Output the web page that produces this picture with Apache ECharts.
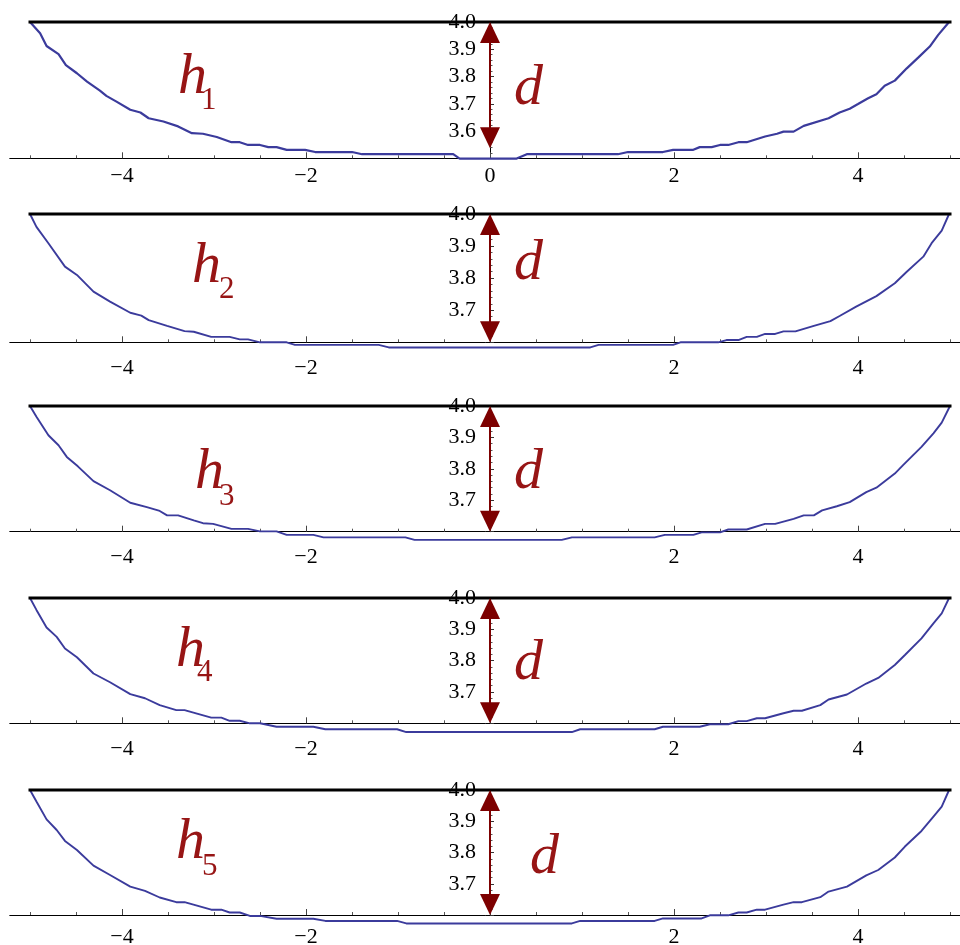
<!DOCTYPE html>
<html>
<head>
<meta charset="utf-8">
<script src="https://cdn.jsdelivr.net/npm/echarts@6/dist/echarts.min.js"></script>
<style>
  html, body { margin: 0; padding: 0; background: #fff; }
  #chart { width: 960px; height: 945px; }
</style>
</head>
<body>
<div id="chart"></div>
<script>
// Shared horizontal extent and tick positions
const X_MIN = -5.22, X_MAX = 5.22;
const xMajorTicks = [-4, -2, 0, 2, 4];
const xMinorTicks = [-5, -4.5, -3.5, -3, -2.5, -1.5, -1, -0.5, 0.5, 1, 1.5, 2.5, 3, 3.5, 4.5, 5];
const xLabelsFirst = [-4, -2, 0, 2, 4];
const xLabelsOther = [-4, -2, 2, 4];

// Free surface level, axis crossing level and lower end of the depth arrow
const surfaceLevel = 4.0;
const surfaceSpan = [-5, 5];
const axisBase = [3.5, 3.6, 3.6, 3.6, 3.6];
const arrowLow = [3.537, 3.6, 3.6, 3.6, 3.6];

// Bottom profiles h1..h5 as [x, height]
const h1Curve = [
  [-5.0, 4.0], [-4.89, 3.959], [-4.82, 3.912], [-4.69, 3.882], [-4.61, 3.842], [-4.49, 3.812],
  [-4.38, 3.781], [-4.24, 3.748], [-4.17, 3.729], [-4.06, 3.708], [-3.91, 3.678], [-3.80, 3.668],
  [-3.71, 3.647], [-3.55, 3.635], [-3.39, 3.617], [-3.24, 3.592], [-3.12, 3.590], [-2.97, 3.578],
  [-2.81, 3.559], [-2.72, 3.559], [-2.63, 3.549], [-2.50, 3.549], [-2.41, 3.541], [-2.32, 3.541],
  [-2.21, 3.531], [-2.01, 3.531], [-1.90, 3.523], [-1.50, 3.523], [-1.39, 3.515], [-0.40, 3.515],
  [-0.33, 3.499], [0.29, 3.499], [0.40, 3.515], [1.39, 3.515], [1.50, 3.523], [1.88, 3.523],
  [1.99, 3.531], [2.21, 3.531], [2.28, 3.541], [2.41, 3.541], [2.50, 3.549], [2.59, 3.549],
  [2.70, 3.559], [2.79, 3.559], [2.99, 3.580], [3.12, 3.590], [3.19, 3.598], [3.30, 3.598],
  [3.41, 3.619], [3.68, 3.647], [3.80, 3.668], [3.91, 3.682], [4.00, 3.699], [4.11, 3.720],
  [4.20, 3.735], [4.29, 3.766], [4.40, 3.785], [4.53, 3.830], [4.66, 3.871], [4.78, 3.910],
  [4.87, 3.952], [4.99, 4.0]
];
const h2Curve = [
  [-5.0, 4.0], [-4.93, 3.960], [-4.80, 3.909], [-4.62, 3.836], [-4.49, 3.810], [-4.31, 3.758],
  [-4.13, 3.727], [-3.91, 3.692], [-3.79, 3.683], [-3.71, 3.669], [-3.51, 3.651], [-3.32, 3.635],
  [-3.22, 3.633], [-3.03, 3.617], [-2.83, 3.617], [-2.72, 3.609], [-2.63, 3.609], [-2.50, 3.600],
  [-2.21, 3.600], [-2.12, 3.592], [-1.21, 3.592], [-1.10, 3.584], [1.09, 3.584], [1.18, 3.592],
  [1.99, 3.592], [2.07, 3.600], [2.48, 3.600], [2.57, 3.607], [2.70, 3.607], [2.79, 3.617],
  [2.90, 3.617], [2.99, 3.626], [3.10, 3.626], [3.19, 3.634], [3.32, 3.634], [3.52, 3.651],
  [3.70, 3.666], [3.80, 3.682], [3.98, 3.711], [4.20, 3.744], [4.40, 3.784], [4.53, 3.820],
  [4.71, 3.867], [4.80, 3.909], [4.91, 3.948], [4.99, 4.0]
];
const h3Curve = [
  [-5.0, 4.0], [-4.93, 3.966], [-4.80, 3.907], [-4.69, 3.875], [-4.60, 3.838], [-4.48, 3.808],
  [-4.31, 3.761], [-4.13, 3.732], [-3.91, 3.692], [-3.73, 3.678], [-3.59, 3.666], [-3.51, 3.652],
  [-3.39, 3.652], [-3.22, 3.636], [-3.12, 3.627], [-3.01, 3.625], [-2.81, 3.609], [-2.63, 3.609],
  [-2.50, 3.601], [-2.32, 3.601], [-2.21, 3.590], [-1.92, 3.590], [-1.81, 3.582], [-0.92, 3.582],
  [-0.82, 3.574], [0.78, 3.574], [0.89, 3.582], [1.79, 3.582], [1.90, 3.590], [2.21, 3.590],
  [2.30, 3.598], [2.50, 3.598], [2.59, 3.607], [2.79, 3.607], [2.99, 3.625], [3.10, 3.625],
  [3.30, 3.641], [3.41, 3.652], [3.52, 3.652], [3.61, 3.668], [3.77, 3.681], [3.91, 3.694],
  [4.09, 3.726], [4.20, 3.740], [4.40, 3.785], [4.49, 3.812], [4.69, 3.870], [4.82, 3.913],
  [4.91, 3.947], [5.0, 4.0]
];
const h4Curve = [
  [-5.0, 4.0], [-4.93, 3.962], [-4.82, 3.906], [-4.71, 3.876], [-4.62, 3.839], [-4.49, 3.811],
  [-4.31, 3.759], [-4.13, 3.731], [-3.91, 3.693], [-3.75, 3.680], [-3.59, 3.658], [-3.41, 3.642],
  [-3.32, 3.642], [-3.03, 3.618], [-2.92, 3.618], [-2.83, 3.608], [-2.72, 3.608], [-2.61, 3.600],
  [-2.50, 3.600], [-2.32, 3.589], [-1.92, 3.589], [-1.79, 3.581], [-1.01, 3.581], [-0.91, 3.572],
  [0.89, 3.572], [0.98, 3.581], [1.79, 3.581], [1.88, 3.589], [2.28, 3.589], [2.39, 3.597],
  [2.59, 3.597], [2.70, 3.607], [2.79, 3.607], [2.90, 3.616], [2.99, 3.616], [3.19, 3.632],
  [3.30, 3.640], [3.39, 3.640], [3.59, 3.658], [3.68, 3.676], [3.88, 3.692], [4.09, 3.727],
  [4.22, 3.745], [4.40, 3.786], [4.51, 3.818], [4.69, 3.871], [4.82, 3.919], [4.91, 3.951],
  [4.99, 4.0]
];
const h5Curve = [
  [-5.0, 4.0], [-4.93, 3.963], [-4.82, 3.906], [-4.71, 3.872], [-4.62, 3.837], [-4.49, 3.808],
  [-4.31, 3.758], [-4.13, 3.728], [-3.91, 3.691], [-3.75, 3.677], [-3.59, 3.656], [-3.41, 3.641],
  [-3.32, 3.641], [-3.03, 3.617], [-2.92, 3.617], [-2.83, 3.608], [-2.72, 3.608], [-2.61, 3.597],
  [-2.50, 3.597], [-2.32, 3.588], [-1.92, 3.588], [-1.79, 3.581], [-1.01, 3.581], [-0.91, 3.573],
  [0.89, 3.573], [0.98, 3.581], [1.79, 3.581], [1.88, 3.589], [2.30, 3.589], [2.39, 3.599],
  [2.59, 3.599], [2.70, 3.608], [2.79, 3.608], [2.90, 3.617], [2.99, 3.617], [3.19, 3.633],
  [3.30, 3.641], [3.39, 3.641], [3.59, 3.657], [3.68, 3.675], [3.88, 3.691], [4.09, 3.727],
  [4.22, 3.744], [4.40, 3.784], [4.51, 3.819], [4.69, 3.869], [4.82, 3.915], [4.91, 3.947],
  [4.99, 4.0]
];
const curves = [h1Curve, h2Curve, h3Curve, h4Curve, h5Curve];
const subscripts = ['1', '2', '3', '4', '5'];

// Panel placement in pixels
const GRID_LEFT = 9.76, GRID_WIDTH = 960.48;
const panelTop = [22, 214, 406, 598, 790];
const panelHeight = [136.3, 128.3, 125.7, 125.3, 125];
const xLabelMargin = [7, 15, 15, 15, 11];
const curveWidth = [2.2, 1.9, 1.9, 1.9, 1.9];
// the vertical axis sits at x = 0 inside each panel
const Y_AXIS_SHIFT = -(0 - X_MIN) / (X_MAX - X_MIN) * GRID_WIDTH;

// Annotation text anchors: [x, baseline]
const hPos = [[178, 97], [192, 286], [195, 492], [176, 670], [176, 862]];
const subPos = [[201, 111], [219, 300], [219, 507], [197, 683], [202, 877]];
const dPos = [[514, 108], [514, 283], [514, 492], [514, 683], [530, 877]];

const SERIF = '"Liberation Serif", "Times New Roman", serif';
const CURVE_COLOR = '#3b3b9c';
const ARROW_COLOR = '#7d0000';
const TEXT_COLOR = '#971515';
const BIG = 58, SUB = 31, TICK_FONT = 22;

const fmtX = v => (v < 0 ? '\u2212' + Math.abs(v) : String(v));

function arrowItem(params, api) {
  const top = api.coord([api.value(0), api.value(1)]);
  const bot = api.coord([api.value(0), api.value(2)]);
  const hw = 10, hh = 21;
  return {
    type: 'group',
    children: [
      { type: 'line',
        shape: { x1: top[0], y1: top[1] + hh - 2, x2: bot[0], y2: bot[1] - hh + 2 },
        style: { stroke: ARROW_COLOR, lineWidth: 2 } },
      { type: 'polygon',
        shape: { points: [[top[0], top[1]], [top[0] - hw, top[1] + hh], [top[0] + hw, top[1] + hh]] },
        style: { fill: ARROW_COLOR } },
      { type: 'polygon',
        shape: { points: [[bot[0], bot[1]], [bot[0] - hw, bot[1] - hh], [bot[0] + hw, bot[1] - hh]] },
        style: { fill: ARROW_COLOR } }
    ]
  };
}

const grid = [], xAxis = [], yAxis = [], series = [], graphic = [];

for (let i = 0; i < 5; i++) {
  grid.push({
    left: GRID_LEFT, width: GRID_WIDTH, top: panelTop[i], height: panelHeight[i],
    outerBoundsMode: 'none', containLabel: false
  });

  // main x axis: line, major ticks, labels
  xAxis.push({
    type: 'value', gridIndex: i, min: X_MIN, max: X_MAX, position: 'bottom',
    axisLine: { onZero: false, lineStyle: { color: '#000', width: 1 } },
    axisTick: { inside: true, length: 6, customValues: xMajorTicks, lineStyle: { color: '#444', width: 1 } },
    axisLabel: {
      customValues: i === 0 ? xLabelsFirst : xLabelsOther, formatter: fmtX,
      fontFamily: SERIF, fontSize: TICK_FONT, color: '#000', margin: xLabelMargin[i]
    },
    splitLine: { show: false }
  });
  // companion x axis carrying the minor ticks
  xAxis.push({
    type: 'value', gridIndex: i, min: X_MIN, max: X_MAX, position: 'bottom',
    axisLine: { show: false, onZero: false },
    axisTick: { inside: true, length: 3, customValues: xMinorTicks, lineStyle: { color: '#555', width: 1 } },
    axisLabel: { show: false },
    splitLine: { show: false }
  });

  yAxis.push({
    type: 'value', gridIndex: i, min: axisBase[i], max: surfaceLevel, interval: 0.1,
    position: 'left', offset: Y_AXIS_SHIFT,
    axisLine: { onZero: false, lineStyle: { color: '#000', width: 1 } },
    axisTick: { inside: true, length: 4, lineStyle: { color: '#333', width: 1 } },
    minorTick: { show: true, splitNumber: 5, length: 2.5, lineStyle: { color: '#555', width: 1 } },
    axisLabel: {
      showMinLabel: false, formatter: v => v.toFixed(1),
      fontFamily: SERIF, fontSize: TICK_FONT, color: '#000', margin: 14
    },
    splitLine: { show: false }
  });

  series.push({
    type: 'line', xAxisIndex: 2 * i, yAxisIndex: i, data: curves[i],
    symbol: 'none', clip: false, z: 3,
    lineStyle: { color: CURVE_COLOR, width: curveWidth[i] }
  });
  series.push({
    type: 'line', xAxisIndex: 2 * i, yAxisIndex: i,
    data: [[surfaceSpan[0], surfaceLevel], [surfaceSpan[1], surfaceLevel]],
    symbol: 'none', clip: false, z: 4,
    lineStyle: { color: '#000', width: 3, cap: 'square' }
  });
  series.push({
    type: 'custom', xAxisIndex: 2 * i, yAxisIndex: i, clip: false, z: 5,
    data: [[0, surfaceLevel, arrowLow[i]]],
    renderItem: arrowItem
  });

  // h_i label with subscript, and the depth label d
  graphic.push({
    type: 'text', z: 10, x: hPos[i][0], y: hPos[i][1] - 0.3375 * BIG,
    style: { text: 'h', font: 'italic ' + BIG + 'px ' + SERIF, fill: TEXT_COLOR, verticalAlign: 'middle' }
  });
  graphic.push({
    type: 'text', z: 10, x: subPos[i][0], y: subPos[i][1] - 0.3375 * SUB,
    style: { text: subscripts[i], font: SUB + 'px ' + SERIF, fill: TEXT_COLOR, verticalAlign: 'middle' }
  });
  graphic.push({
    type: 'text', z: 10, x: dPos[i][0], y: dPos[i][1] - 0.3375 * BIG,
    style: { text: 'd', font: 'italic ' + BIG + 'px ' + SERIF, fill: TEXT_COLOR, verticalAlign: 'middle' }
  });
}

const chart = echarts.init(document.getElementById('chart'), null, { renderer: 'canvas' });
chart.setOption({
  animation: false,
  backgroundColor: '#fff',
  grid, xAxis, yAxis, series, graphic
});
</script>
</body>
</html>
